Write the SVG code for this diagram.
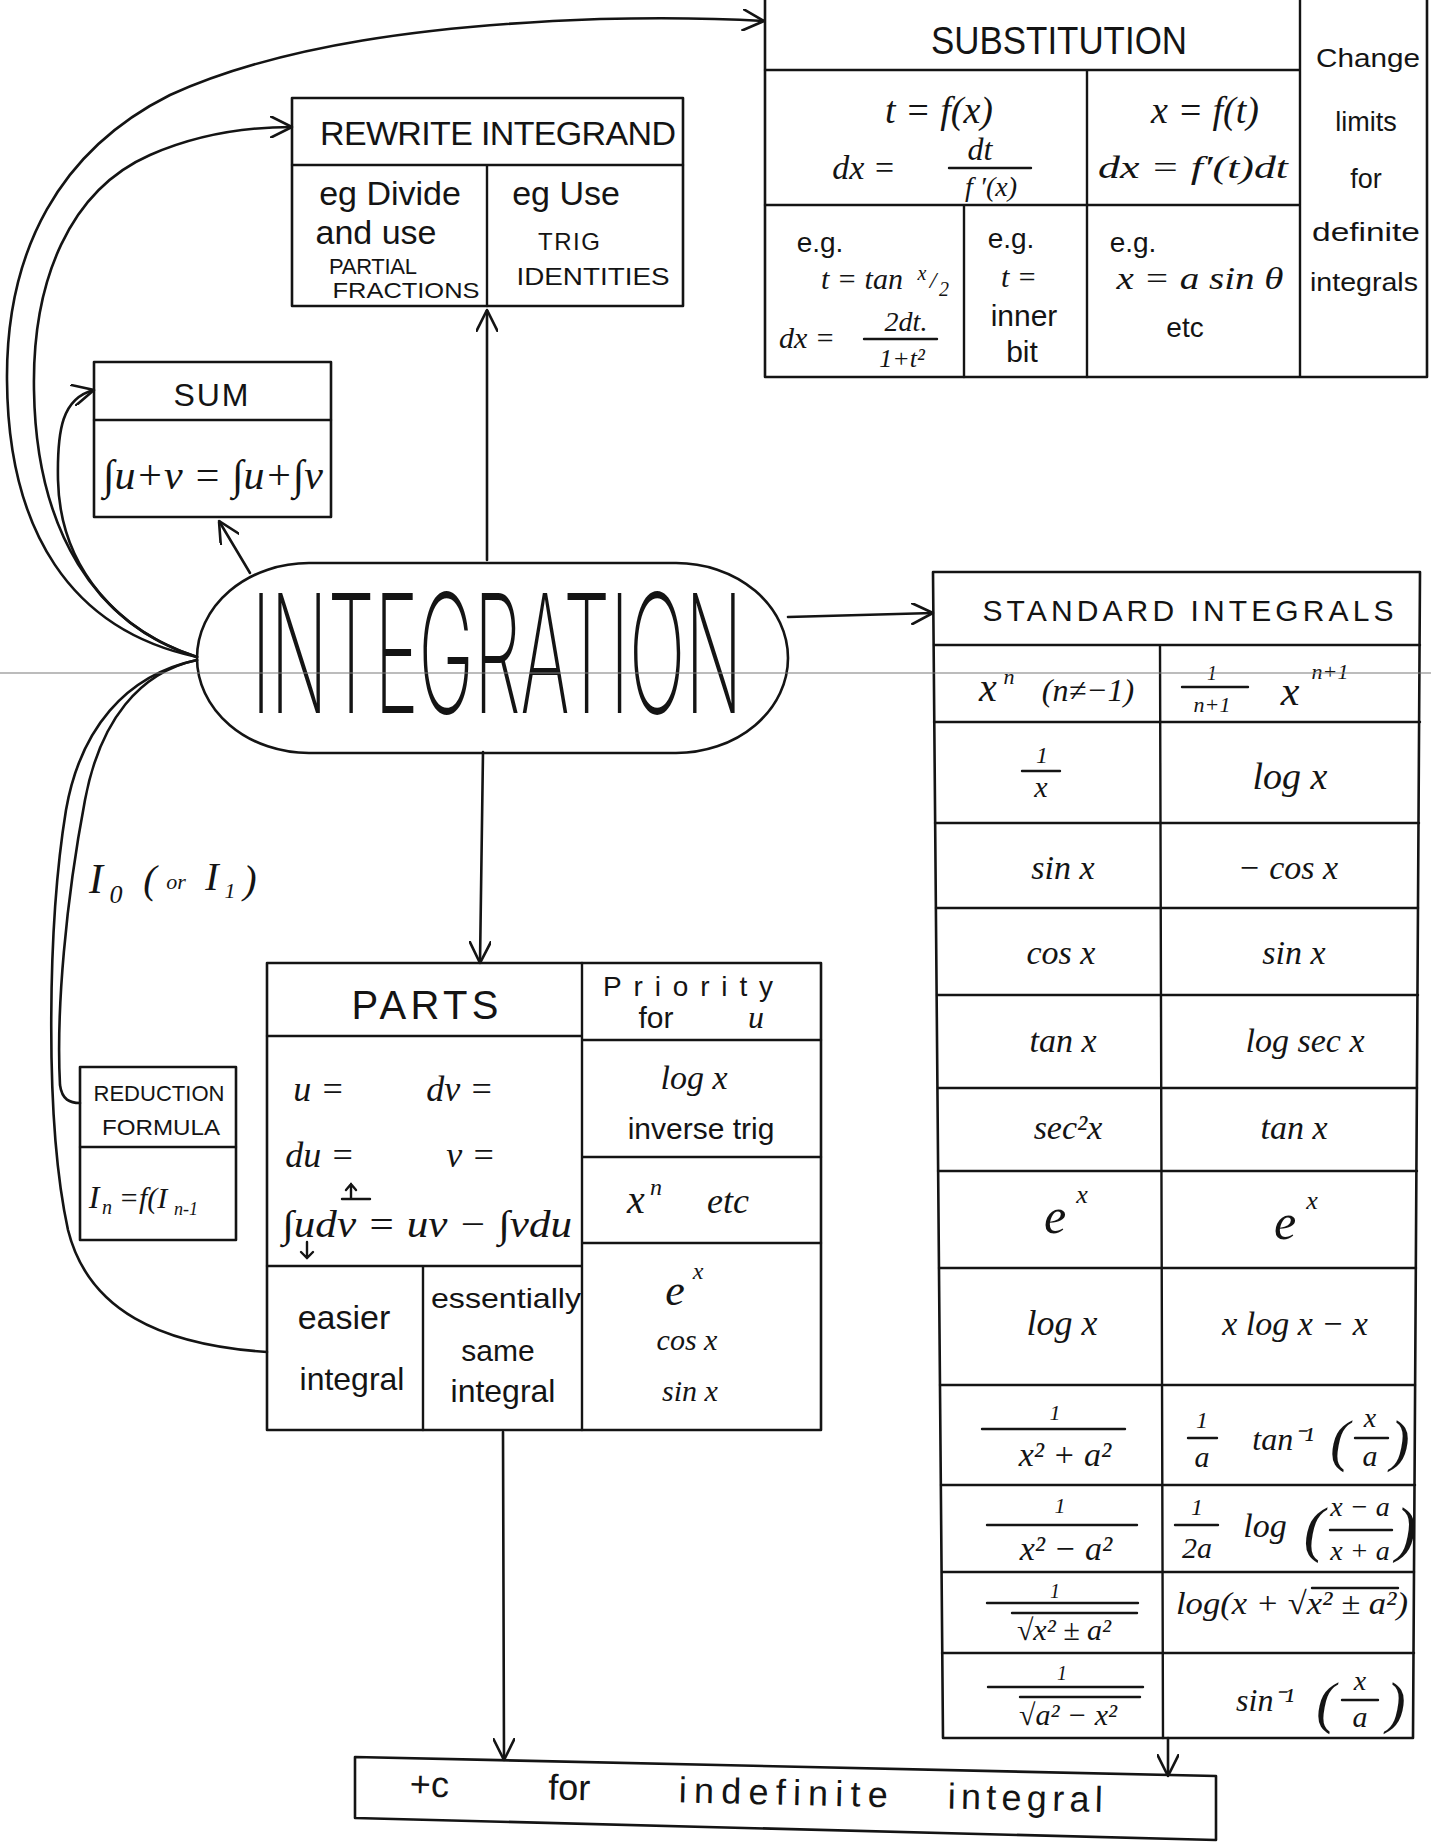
<svg xmlns="http://www.w3.org/2000/svg" width="1431" height="1843" viewBox="0 0 1431 1843">
<style>
.box{fill:none;stroke:#141414;stroke-width:2.6;stroke-linejoin:round}
.ln{fill:none;stroke:#141414;stroke-width:2.4;stroke-linecap:round}
.conn{fill:none;stroke:#141414;stroke-width:2.6;stroke-linecap:round}
.t{font-family:"Liberation Sans",Arial,sans-serif;fill:#141414;text-anchor:middle}
.m{font-family:"Liberation Serif","Times New Roman",serif;font-style:italic;fill:#141414;text-anchor:middle}
.big{font-family:Inter,"Noto Sans","Open Sans","DejaVu Sans",sans-serif;font-weight:200;fill:#141414;text-anchor:middle}
</style>
<defs>
<marker id="ah" viewBox="0 0 10 10" refX="10" refY="5" markerWidth="22" markerHeight="22" markerUnits="userSpaceOnUse" orient="auto">
<path d="M0,0 L10,5 L0,10" fill="none" stroke="#141414" stroke-width="1.2"/>
</marker>
</defs>
<rect width="1431" height="1843" fill="#ffffff"/>

<g id="connectors">
<path class="conn" d="M487,560 L487,310" marker-end="url(#ah)"/>
<path class="conn" d="M250,573 L219,521" marker-end="url(#ah)"/>
<path class="conn" d="M197,657 C120,632 60,570 58,480 C57,430 62,398 94,390" marker-end="url(#ah)"/>
<path class="conn" d="M197,657 C95,625 36,530 34,390 C32,280 70,190 150,155 C200,133 250,127 292,127" marker-end="url(#ah)"/>
<path class="conn" d="M197,657 C70,630 8,530 7,380 C6,250 60,150 170,95 C280,45 430,25 600,19 C680,17 730,19 764,21" marker-end="url(#ah)"/>
<path class="conn" d="M197,660 C140,672 100,720 85,800 C66,900 56,1010 60,1085 C62,1100 70,1103 80,1103"/>
<path class="conn" d="M197,660 C125,675 80,730 66,810 C48,920 44,1120 68,1230 C88,1310 160,1345 267,1352"/>
<path class="conn" d="M788,617 L933,613" marker-end="url(#ah)"/>
<path class="conn" d="M483,752 L480,963" marker-end="url(#ah)"/>
<path class="conn" d="M503,1432 L504,1760" marker-end="url(#ah)"/>
<path class="conn" d="M1168,1738 L1168,1776" marker-end="url(#ah)"/>
</g>

<g id="integration">
<rect class="box" x="197" y="563" width="591" height="190" rx="112" ry="95"/>
<text class="big" transform="translate(497,713) scale(0.45,1)" x="0" y="0" font-size="165" textLength="1091" lengthAdjust="spacingAndGlyphs">INTEGRATION</text>
</g>

<g id="substitution">
<path class="box" d="M765,-3 L765,377 L1427,377 L1427,-3"/>
<path class="ln" d="M765,70 L1300,70 M1300,-3 L1300,376 M765,205 L1300,205 M1087,70 L1087,377 M964,205 L964,377"/>
<text class="t" x="1059" y="54" font-size="38" textLength="256" lengthAdjust="spacingAndGlyphs">SUBSTITUTION</text>
<text class="m" x="939" y="123" font-size="38">t = f(x)</text>
<text class="m" x="864" y="179" font-size="34">dx =</text>
<text class="m" x="980" y="160" font-size="32">dt</text>
<line class="ln" x1="949" y1="168" x2="1031" y2="168"/>
<text class="m" x="991" y="196" font-size="28">f ′(x)</text>
<text class="m" x="1205" y="123" font-size="38">x = f(t)</text>
<text class="m" x="1193" y="178" font-size="32" textLength="190" lengthAdjust="spacingAndGlyphs">dx = f′(t)dt</text>
<text class="t" x="820" y="252" font-size="28">e.g.</text>
<text class="m" x="862" y="289" font-size="30">t = tan</text>
<text class="m" x="922" y="280" font-size="20">x</text>
<text class="m" x="933" y="288" font-size="24">/</text>
<text class="m" x="944" y="296" font-size="20">2</text>
<text class="m" x="807" y="348" font-size="30">dx =</text>
<text class="m" x="906" y="331" font-size="28">2dt.</text>
<line class="ln" x1="864" y1="339" x2="937" y2="339"/>
<text class="m" x="902" y="367" font-size="26">1+t²</text>
<text class="t" x="1011" y="248" font-size="28">e.g.</text>
<text class="m" x="1019" y="287" font-size="30">t =</text>
<text class="t" x="1024" y="326" font-size="30">inner</text>
<text class="t" x="1022" y="362" font-size="30">bit</text>
<text class="t" x="1133" y="252" font-size="28">e.g.</text>
<text class="m" x="1200" y="289" font-size="31" textLength="167" lengthAdjust="spacingAndGlyphs">x = a sin θ</text>
<text class="t" x="1185" y="337" font-size="28">etc</text>
<text class="t" x="1368" y="67" font-size="26" textLength="104" lengthAdjust="spacingAndGlyphs">Change</text>
<text class="t" x="1366" y="131" font-size="27">limits</text>
<text class="t" x="1366" y="188" font-size="27">for</text>
<text class="t" x="1366" y="241" font-size="26" textLength="108" lengthAdjust="spacingAndGlyphs">definite</text>
<text class="t" x="1364" y="291" font-size="26" textLength="108" lengthAdjust="spacingAndGlyphs">integrals</text>
</g>

<g id="rewrite">
<rect class="box" x="292" y="98" width="391" height="208"/>
<path class="ln" d="M292,165 L683,165 M487,165 L487,306"/>
<text class="t" x="498" y="145" font-size="34" textLength="356" lengthAdjust="spacing">REWRITE  INTEGRAND</text>
<text class="t" x="390" y="205" font-size="34">eg Divide</text>
<text class="t" x="376" y="244" font-size="34">and use</text>
<text class="t" x="373" y="274" font-size="22" textLength="88" lengthAdjust="spacing">PARTIAL</text>
<text class="t" x="406" y="298" font-size="22" textLength="147" lengthAdjust="spacingAndGlyphs">FRACTIONS</text>
<text class="t" x="566" y="205" font-size="34">eg Use</text>
<text class="t" x="569" y="250" font-size="24" textLength="62" lengthAdjust="spacing">TRIG</text>
<text class="t" x="593" y="285" font-size="24" textLength="153" lengthAdjust="spacingAndGlyphs">IDENTITIES</text>
</g>

<g id="sum">
<rect class="box" x="94" y="362" width="237" height="155"/>
<line class="ln" x1="94" y1="420" x2="331" y2="420"/>
<text class="t" x="211" y="406" font-size="32" textLength="75" lengthAdjust="spacing">SUM</text>
<text class="m" x="213" y="489" font-size="42" textLength="220" lengthAdjust="spacingAndGlyphs">∫u+v = ∫u+∫v</text>
</g>

<g id="standard">
<path class="box" d="M933,572 L1420,572 L1413,1738 L943,1738 Z"/>
<path class="ln" d="M934,645 L1420,645 M934,722 L1420,722 M935,823 L1419,823 M936,908 L1418,908 M937,995 L1418,995 M938,1088 L1417,1088 M938,1171 L1417,1171 M939,1268 L1416,1268 M940,1385 L1415,1385 M941,1485 L1415,1485 M942,1572 L1414,1572 M942,1653 L1414,1653 M1160,645 L1163,1738"/>
<text class="t" x="1188" y="621" font-size="30" textLength="411" lengthAdjust="spacing">STANDARD  INTEGRALS</text>
<text class="m" x="988" y="701" font-size="40">x</text>
<text class="m" x="1009" y="684" font-size="22">n</text>
<text class="m" x="1088" y="701" font-size="32">(n≠−1)</text>
<text class="m" x="1212" y="680" font-size="20">1</text>
<line class="ln" x1="1182" y1="687" x2="1248" y2="687"/>
<text class="m" x="1212" y="712" font-size="22">n+1</text>
<text class="m" x="1290" y="705" font-size="42">x</text>
<text class="m" x="1330" y="679" font-size="22">n+1</text>
<text class="m" x="1042" y="763" font-size="24">1</text>
<line class="ln" x1="1022" y1="771" x2="1060" y2="771"/>
<text class="m" x="1041" y="797" font-size="30">x</text>
<text class="m" x="1290" y="789" font-size="38">log x</text>
<text class="m" x="1063" y="879" font-size="34">sin x</text>
<text class="m" x="1288" y="879" font-size="34">− cos x</text>
<text class="m" x="1061" y="964" font-size="34">cos x</text>
<text class="m" x="1294" y="964" font-size="34">sin x</text>
<text class="m" x="1063" y="1052" font-size="34">tan x</text>
<text class="m" x="1305" y="1052" font-size="34">log sec x</text>
<text class="m" x="1068" y="1139" font-size="34">sec²x</text>
<text class="m" x="1294" y="1139" font-size="34">tan x</text>
<text class="m" x="1055" y="1233" font-size="50">e</text>
<text class="m" x="1082" y="1203" font-size="26">x</text>
<text class="m" x="1285" y="1239" font-size="50">e</text>
<text class="m" x="1312" y="1209" font-size="26">x</text>
<text class="m" x="1062" y="1335" font-size="36">log x</text>
<text class="m" x="1295" y="1335" font-size="34">x log x − x</text>
<text class="m" x="1055" y="1420" font-size="22">1</text>
<line class="ln" x1="982" y1="1429" x2="1125" y2="1429"/>
<text class="m" x="1065" y="1466" font-size="34">x² + a²</text>
<text class="m" x="1202" y="1428" font-size="24">1</text>
<line class="ln" x1="1188" y1="1438" x2="1217" y2="1438"/>
<text class="m" x="1202" y="1467" font-size="30">a</text>
<text class="m" x="1283" y="1450" font-size="32">tan⁻¹</text>
<text class="m" x="1340" y="1460" font-size="58">(</text>
<text class="m" x="1400" y="1460" font-size="58">)</text>
<text class="m" x="1370" y="1427" font-size="28">x</text>
<line class="ln" x1="1355" y1="1438" x2="1388" y2="1438"/>
<text class="m" x="1370" y="1466" font-size="30">a</text>
<text class="m" x="1060" y="1513" font-size="22">1</text>
<line class="ln" x1="987" y1="1525" x2="1137" y2="1525"/>
<text class="m" x="1066" y="1560" font-size="34">x² − a²</text>
<text class="m" x="1197" y="1515" font-size="24">1</text>
<line class="ln" x1="1175" y1="1525" x2="1218" y2="1525"/>
<text class="m" x="1197" y="1558" font-size="30">2a</text>
<text class="m" x="1265" y="1537" font-size="34">log</text>
<text class="m" x="1314" y="1550" font-size="62">(</text>
<text class="m" x="1406" y="1550" font-size="62">)</text>
<text class="m" x="1360" y="1516" font-size="28">x − a</text>
<line class="ln" x1="1330" y1="1530" x2="1392" y2="1530"/>
<text class="m" x="1360" y="1560" font-size="28">x + a</text>
<text class="m" x="1055" y="1598" font-size="20">1</text>
<line class="ln" x1="987" y1="1603" x2="1138" y2="1603"/>
<text class="m" x="1064" y="1640" font-size="30">√x² ± a²</text>
<line class="ln" x1="1012" y1="1613" x2="1137" y2="1613"/>
<text class="m" x="1292" y="1614" font-size="32" textLength="232" lengthAdjust="spacingAndGlyphs">log(x + √x² ± a²)</text>
<line class="ln" x1="1312" y1="1588" x2="1398" y2="1588"/>
<text class="m" x="1062" y="1680" font-size="20">1</text>
<line class="ln" x1="988" y1="1687" x2="1143" y2="1687"/>
<text class="m" x="1068" y="1725" font-size="30">√a² − x²</text>
<line class="ln" x1="1020" y1="1697" x2="1140" y2="1697"/>
<text class="m" x="1265" y="1711" font-size="32">sin⁻¹</text>
<text class="m" x="1326" y="1722" font-size="58">(</text>
<text class="m" x="1396" y="1722" font-size="58">)</text>
<text class="m" x="1360" y="1690" font-size="28">x</text>
<line class="ln" x1="1342" y1="1700" x2="1378" y2="1700"/>
<text class="m" x="1360" y="1727" font-size="30">a</text>
</g>

<g id="parts">
<rect class="box" x="267" y="963" width="554" height="467"/>
<path class="ln" d="M582,963 L582,1430 M267,1036 L582,1036 M582,1040 L821,1040 M267,1266 L582,1266 M423,1266 L423,1430 M582,1157 L821,1157 M582,1243 L821,1243"/>
<text class="t" x="425" y="1019" font-size="40" textLength="147" lengthAdjust="spacing">PARTS</text>
<text class="t" x="688" y="996" font-size="28" textLength="170" lengthAdjust="spacing">Priority</text>
<text class="t" x="656" y="1028" font-size="30">for</text>
<text class="m" x="756" y="1028" font-size="32">u</text>
<text class="m" x="319" y="1101" font-size="36">u =</text>
<text class="m" x="460" y="1101" font-size="36">dv =</text>
<text class="m" x="320" y="1167" font-size="36">du =</text>
<text class="m" x="471" y="1167" font-size="36">v =</text>
<text class="m" x="427" y="1237" font-size="38" textLength="290" lengthAdjust="spacingAndGlyphs">∫udv = uv − ∫vdu</text>
<path class="ln" d="M342,1199 L370,1199 M351,1199 L351,1184 M346,1190 L351,1184 L356,1190 M307,1242 L307,1258 M301,1252 L307,1258 L313,1252" stroke-width="1.8"/>
<text class="m" x="694" y="1089" font-size="34">log x</text>
<text class="t" x="701" y="1139" font-size="30">inverse trig</text>
<text class="m" x="636" y="1213" font-size="40">x</text>
<text class="m" x="656" y="1195" font-size="24">n</text>
<text class="m" x="728" y="1213" font-size="36">etc</text>
<text class="m" x="675" y="1305" font-size="44">e</text>
<text class="m" x="698" y="1279" font-size="24">x</text>
<text class="m" x="687" y="1350" font-size="30">cos x</text>
<text class="m" x="690" y="1401" font-size="30">sin x</text>
<text class="t" x="344" y="1329" font-size="34">easier</text>
<text class="t" x="352" y="1390" font-size="32">integral</text>
<text class="t" x="506" y="1308" font-size="28" textLength="150" lengthAdjust="spacingAndGlyphs">essentially</text>
<text class="t" x="498" y="1361" font-size="30">same</text>
<text class="t" x="503" y="1402" font-size="32">integral</text>
</g>

<g id="reduction">
<rect class="box" x="80" y="1067" width="156" height="173"/>
<line class="ln" x1="80" y1="1147" x2="236" y2="1147"/>
<text class="t" x="159" y="1101" font-size="22" textLength="131" lengthAdjust="spacingAndGlyphs">REDUCTION</text>
<text class="t" x="161" y="1135" font-size="22" textLength="118" lengthAdjust="spacingAndGlyphs">FORMULA</text>
<text class="m" x="94" y="1208" font-size="32">I</text>
<text class="m" x="107" y="1214" font-size="20">n</text>
<text class="m" x="143" y="1208" font-size="30">=f(I</text>
<text class="m" x="186" y="1215" font-size="18">n-1</text>
</g>

<g id="label-i0">
<text class="m" x="96" y="893" font-size="42">I</text>
<text class="m" x="116" y="903" font-size="26">0</text>
<text class="m" x="150" y="893" font-size="40">(</text>
<text class="m" x="176" y="889" font-size="22">or</text>
<text class="m" x="212" y="890" font-size="40">I</text>
<text class="m" x="230" y="898" font-size="22">1</text>
<text class="m" x="250" y="893" font-size="40">)</text>
</g>

<g id="plus-c">
<path class="box" d="M355,1757 L1216,1776 L1216,1840 L355,1818 Z"/>
<g transform="rotate(1.3 355 1757)">
<text class="t" x="430" y="1795" font-size="36">+c</text>
<text class="t" x="570" y="1795" font-size="36">for</text>
<text class="t" x="784" y="1795" font-size="36" textLength="209" lengthAdjust="spacing">indefinite</text>
<text class="t" x="1026" y="1795" font-size="36" textLength="155" lengthAdjust="spacing">integral</text>
</g>
</g>

<line x1="0" y1="673" x2="1431" y2="673" stroke="#7a7a7a" stroke-width="1.2"/>
</svg>
